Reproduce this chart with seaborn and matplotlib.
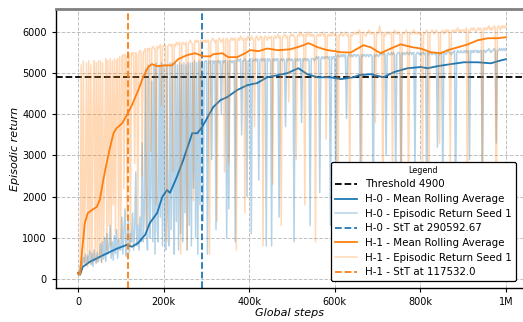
import numpy as np
import pandas as pd
import matplotlib
matplotlib.use("Agg")
import matplotlib.pyplot as plt
from matplotlib.ticker import FuncFormatter
import seaborn as sns

threshold = 4900
stt_h0 = 290592.67
stt_h1 = 117532.0

# raw episodic returns, one value every 2.5k steps (one row = 50k steps)
raw_step = 2500
h0_raw = [120, 90, 260, 420, 330, 520, 380, 600, 330, 560, 420, 680, 350, 620, 300, 700, 450, 380, 640, 420,
          520, 850, 400, 900, 480, 1000, 420, 1100, 600, 780, 1300, 500, 900, 450, 1050, 620, 1200, 500, 950, 700,
          700, 1500, 600, 1200, 1700, 550, 1000, 1400, 650, 1100, 900, 1600, 700, 1200, 2600, 800, 1300, 700, 1500, 900,
          3300, 900, 1600, 5100, 1200, 700, 5200, 1000, 2100, 4800, 900, 5200, 600, 5250, 1200, 900, 5200, 1500, 5250, 800,
          5200, 1300, 700, 5200, 1600, 800, 5250, 1200, 5250, 2000, 600, 5250, 1400, 5200, 700, 5250, 1100, 5200, 900, 5250,
          1600, 5200, 700, 5250, 1300, 5250, 800, 5250, 2200, 5300, 1000, 5250, 600, 5300, 1800, 5250, 5300, 1400, 5250, 5300,
          5300, 600, 5300, 5250, 5300, 2900, 5300, 5250, 5300, 1200, 5300, 5300, 5250, 5300, 4000, 5300, 5250, 5300, 5300, 1000,
          5300, 1700, 5300, 5300, 5250, 5300, 5300, 900, 5300, 5350, 5300, 5300, 5350, 3500, 5300, 5300, 5350, 5300, 2000, 5300,
          5300, 5350, 1100, 5350, 5300, 5300, 5350, 5300, 5350, 2400, 5300, 5350, 5300, 5350, 5300, 5350, 800, 5350, 5300, 5350,
          5300, 800, 5350, 5300, 5350, 5300, 5350, 5350, 1500, 5300, 5350, 5300, 5350, 5300, 3700, 5350, 5300, 5350, 5350, 5300,
          5350, 5300, 900, 5350, 5300, 5350, 5300, 5350, 5350, 3800, 5350, 5300, 5350, 5350, 5300, 5350, 5300, 1300, 5350, 5350,
          5350, 5300, 5350, 5400, 5350, 5400, 2100, 5350, 5400, 5350, 5400, 5350, 5400, 5400, 5350, 5400, 1300, 5400, 5350, 5400,
          5400, 1600, 5400, 5450, 5400, 5400, 5450, 5400, 5450, 5400, 5450, 3900, 5400, 5450, 5450, 5400, 5450, 5400, 5450, 5450,
          5400, 5450, 5450, 5400, 2400, 5450, 5400, 5450, 5450, 5400, 5450, 5450, 5400, 5450, 5450, 5400, 1400, 5450, 5400, 5450,
          5450, 5400, 5450, 5450, 5500, 5450, 5500, 5450, 3000, 5450, 5500, 5450, 5450, 5500, 5450, 5500, 5450, 2200, 5450, 5500,
          5500, 5450, 1800, 5500, 5450, 5500, 5450, 5500, 5500, 5450, 5500, 5500, 5450, 5500, 5500, 2700, 5450, 5500, 5500, 5450,
          5500, 5450, 5500, 5500, 5450, 5500, 1500, 5500, 5450, 5500, 5500, 5450, 5500, 5500, 5450, 5500, 3200, 5500, 5450, 5500,
          5500, 2200, 5500, 5500, 5450, 5500, 5550, 5500, 5500, 5450, 5500, 5500, 5550, 1700, 5500, 5550, 5500, 5500, 5550, 5500,
          5500, 5550, 5500, 5550, 5500, 5550, 2900, 5550, 5500, 5550, 5500, 5550, 5550, 5500, 5550, 5500, 5550, 5550, 1900, 5550,
          5550, 5500, 5550, 5550, 5600, 5550, 5500, 5550, 5550, 5600, 5550, 3300, 5550, 5550, 5600, 5550, 5600, 5550, 5600, 5550,
          5600]

h1_raw = [100, 150, 300, 5200, 300, 5300, 400, 2500, 5250, 300, 5300, 600, 5200, 350, 4000, 5300, 500, 5250, 400, 5300,
          600, 5300, 400, 5250, 900, 3500, 5350, 700, 5300, 1300, 5350, 800, 5300, 1800, 5350, 1100, 5300, 5350, 900, 5400,
          1000, 5400, 5450, 2200, 5450, 5400, 1500, 5500, 5450, 800, 5500, 5450, 5500, 2800, 5500, 5450, 1300, 5500, 5550, 5500,
          2500, 5500, 5550, 5600, 1200, 5600, 5550, 5600, 3100, 5600, 5650, 5600, 5600, 1800, 5650, 5600, 5650, 5700, 4200, 5650,
          5650, 5700, 5650, 900, 5650, 5700, 5700, 5650, 5700, 2600, 5700, 5650, 5750, 5700, 5700, 5750, 600, 5700, 5750, 5700,
          5700, 5750, 700, 5700, 5750, 5800, 5750, 5700, 1900, 5750, 5800, 5750, 5800, 5750, 3600, 5800, 5750, 5800, 5750, 5800,
          5750, 5800, 5800, 600, 5750, 5800, 5850, 5800, 5750, 5800, 1400, 5800, 5850, 5800, 5750, 5800, 5850, 2600, 5800, 5850,
          5800, 2800, 5800, 5850, 5800, 5850, 5800, 5850, 700, 5800, 5850, 5800, 5900, 5850, 5800, 5850, 1600, 5850, 5800, 5900,
          5850, 5800, 5900, 5850, 5800, 3700, 5850, 5900, 5850, 5800, 5850, 5900, 5850, 800, 5850, 5900, 5850, 5800, 5900, 5850,
          5850, 5900, 2300, 5850, 5900, 5850, 5900, 5950, 5850, 5900, 1300, 5850, 5900, 5950, 5900, 5850, 5900, 4300, 5900, 5950,
          5900, 5950, 5900, 5850, 2900, 5900, 5950, 5900, 6000, 5950, 5900, 5950, 1800, 5950, 5900, 6000, 5950, 5900, 5950, 5900,
          5950, 5900, 900, 5900, 5950, 5900, 5950, 5900, 5950, 6000, 5900, 5950, 3400, 5900, 5950, 5900, 5950, 5900, 6000, 5950,
          5900, 5950, 5900, 1100, 5950, 5900, 6000, 5950, 5900, 5950, 6000, 5950, 5900, 5950, 2200, 5950, 5900, 5950, 6000, 5950,
          5950, 6000, 5950, 6050, 5950, 1500, 5950, 6000, 5950, 5900, 5950, 6000, 6050, 5950, 6000, 5950, 6000, 5950, 3800, 6000,
          5950, 6000, 6150, 5950, 6000, 1700, 5950, 5900, 6000, 5950, 6000, 5950, 6000, 5950, 2600, 6000, 6050, 5950, 6000, 5950,
          6000, 5950, 1300, 5950, 6000, 5950, 6000, 6050, 5950, 2000, 5950, 6000, 5950, 6000, 6050, 5950, 6000, 5950, 6000, 5950,
          6000, 5950, 2400, 6000, 5950, 6000, 6050, 5950, 1800, 5950, 6000, 6050, 6000, 5950, 6000, 6050, 6000, 5950, 3300, 6000,
          6000, 6050, 5950, 6000, 6050, 6000, 6050, 6000, 2700, 6000, 6050, 6000, 6050, 6000, 6050, 6100, 6000, 6050, 6000, 6050,
          6050, 6000, 6050, 6100, 1900, 6050, 6000, 6050, 6100, 6050, 6100, 6050, 6000, 6050, 6100, 6050, 6100, 6050, 2400, 6100,
          6050, 6100, 6050, 6100, 6150, 6050, 6100, 6050, 6100, 6150, 6100, 1000, 6100, 6150, 6100, 6050, 6150, 6100, 6150, 6100,
          6150]

# mean rolling averages (steps in thousands)
h0_mean_k = [0, 5, 11, 28, 51, 75, 90, 114, 126, 141, 157, 168, 185, 197, 208, 215, 231,
             246, 267, 279, 290, 302, 316, 333, 349, 372, 396, 419, 442, 466, 489, 515,
             536, 560, 590, 614, 644, 656, 684, 714, 738, 770, 801, 817, 840, 871, 902,
             934, 965, 981, 1000]
h0_mean = [145, 100, 290, 415, 535, 655, 730, 825, 780, 875, 1070, 1360, 1600, 1990, 2160,
           2090, 2475, 2890, 3540, 3540, 3690, 3910, 4175, 4345, 4420, 4590, 4710, 4760,
           4900, 4950, 5000, 5120, 4975, 4900, 4900, 4855, 4900, 4950, 4975, 4900, 5025,
           5120, 5150, 5120, 5170, 5220, 5265, 5265, 5240, 5290, 5340]

h1_mean_k = [0, 5, 9, 16, 23, 33, 44, 51, 59, 67, 75, 83, 90, 103, 114, 126, 141, 152, 164,
             173, 185, 204, 220, 234, 255, 274, 293, 309, 316, 337, 351, 372, 386, 403, 422,
             442, 466, 496, 520, 539, 560, 583, 597, 614, 637, 667, 684, 707, 731, 754, 782,
             801, 824, 848, 864, 888, 911, 934, 958, 981, 1000]
h1_mean = [130, 110, 630, 1360, 1600, 1675, 1750, 1920, 2400, 2815, 3200, 3540, 3660, 3780,
           3980, 4220, 4590, 4900, 5150, 5220, 5170, 5190, 5190, 5340, 5440, 5485, 5410,
           5410, 5460, 5485, 5390, 5390, 5460, 5560, 5535, 5600, 5560, 5580, 5655, 5730,
           5630, 5560, 5540, 5510, 5500, 5680, 5630, 5485, 5600, 5700, 5630, 5600, 5510,
           5485, 5560, 5630, 5700, 5800, 5850, 5850, 5875]

c0 = "#1f77b4"
c1 = "#ff7f0e"

df_h0_raw = pd.DataFrame({"step": np.arange(len(h0_raw)) * raw_step, "ret": h0_raw})
df_h1_raw = pd.DataFrame({"step": np.arange(len(h1_raw)) * raw_step, "ret": h1_raw})
df_h0_mean = pd.DataFrame({"step": np.array(h0_mean_k) * 1000, "ret": h0_mean})
df_h1_mean = pd.DataFrame({"step": np.array(h1_mean_k) * 1000, "ret": h1_mean})

fig = plt.figure(figsize=(5.23, 3.22), dpi=100)
ax = fig.add_axes([0.107, 0.106, 0.893, 0.866])

ax.axhline(threshold, color="black", ls="--", lw=1.3, label="Threshold %d" % threshold)

sns.lineplot(data=df_h0_mean, x="step", y="ret", color=c0, lw=1.3, estimator=None,
             ax=ax, label="H-0 - Mean Rolling Average")
sns.lineplot(data=df_h0_raw, x="step", y="ret", color=c0, lw=1.1, alpha=0.33, estimator=None,
             ax=ax, label="H-0 - Episodic Return Seed 1")
ax.axvline(stt_h0, color=c0, ls="--", lw=1.3, label="H-0 - StT at %s" % stt_h0)

sns.lineplot(data=df_h1_mean, x="step", y="ret", color=c1, lw=1.3, estimator=None,
             ax=ax, label="H-1 - Mean Rolling Average")
sns.lineplot(data=df_h1_raw, x="step", y="ret", color=c1, lw=1.1, alpha=0.3, estimator=None,
             ax=ax, label="H-1 - Episodic Return Seed 1")
ax.axvline(stt_h1, color=c1, ls="--", lw=1.3, label="H-1 - StT at %s" % stt_h1)

ax.set_xlim(-51500, 1040000)
ax.set_ylim(-220, 6560)
ax.set_xticks([0, 200000, 400000, 600000, 800000, 1000000])
ax.xaxis.set_major_formatter(FuncFormatter(
    lambda v, p: "0" if v == 0 else ("1M" if v >= 1e6 else "%dk" % (v / 1000))))
ax.tick_params(labelsize=7, length=3, width=0.8)
ax.grid(True, ls="--", color="#b0b0b0", lw=0.7, alpha=0.8)

ax.set_xlabel("Global steps", fontsize=8, style="italic", labelpad=1)
ax.set_ylabel("Episodic return", fontsize=8, style="italic", labelpad=2)

ax.spines["right"].set_visible(False)
ax.spines["top"].set_color("#808080")
ax.spines["top"].set_linewidth(2)
ax.spines["left"].set_linewidth(1)
ax.spines["bottom"].set_linewidth(1)

leg = ax.legend(title="Legend", loc="lower right", fontsize=7.4, title_fontsize=5.8,
                framealpha=1, edgecolor="black", fancybox=True,
                bbox_to_anchor=(0.997, 0.005), borderpad=0.4, labelspacing=0.45,
                handlelength=2.2)
leg.get_frame().set_linewidth(0.9)

fig.savefig("out.png", dpi=100)
